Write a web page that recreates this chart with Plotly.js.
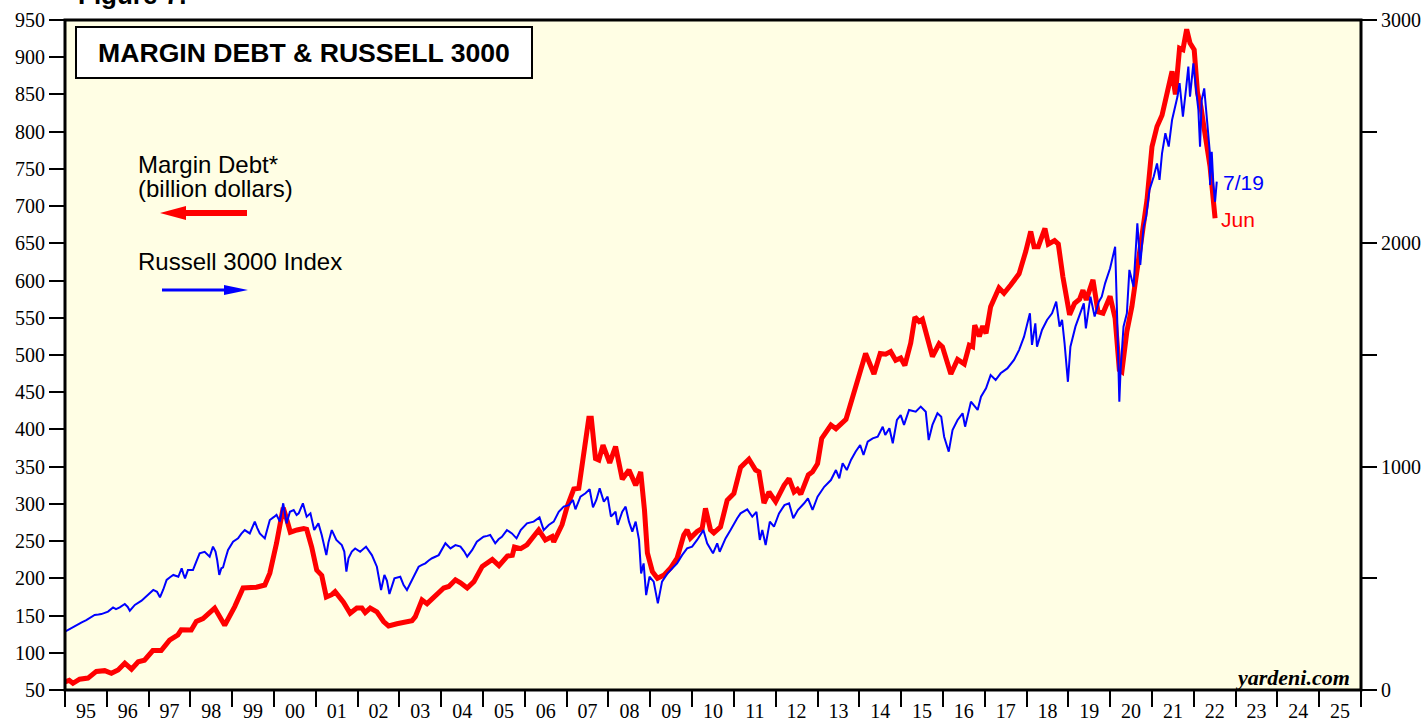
<!DOCTYPE html>
<html>
<head>
<meta charset="utf-8">
<script src="https://cdn.plot.ly/plotly-3.0.1.min.js"></script>
<style>html,body{margin:0;padding:0;background:#fff;}#chart{width:1428px;height:719px;}</style>
</head>
<body>
<div id="chart"></div>
<script>
// Margin debt (billion dollars), monthly-ish readings, x in decimal years
const mdYear = [1995.00,1995.10,1995.19,1995.35,1995.55,1995.65,1995.75,1995.95,1996.11,1996.27,1996.43,1996.59,1996.75,1996.90,1997.10,1997.30,1997.50,1997.70,1997.78,1998.02,1998.14,1998.30,1998.58,1998.82,1998.94,1999.06,1999.26,1999.58,1999.78,1999.90,2000.06,2000.22,2000.30,2000.39,2000.55,2000.71,2000.78,2000.90,2001.02,2001.14,2001.25,2001.38,2001.46,2001.66,2001.82,2001.98,2002.10,2002.18,2002.30,2002.46,2002.62,2002.74,2002.94,2003.14,2003.30,2003.38,2003.54,2003.66,2003.90,2004.06,2004.18,2004.34,2004.46,2004.62,2004.78,2004.98,2005.22,2005.38,2005.58,2005.70,2005.75,2005.90,2006.05,2006.17,2006.33,2006.49,2006.65,2006.69,2006.81,2006.89,2007.01,2007.17,2007.29,2007.41,2007.53,2007.59,2007.69,2007.77,2007.87,2008.03,2008.17,2008.33,2008.49,2008.65,2008.77,2008.86,2008.93,2009.05,2009.17,2009.33,2009.48,2009.64,2009.80,2009.88,2009.96,2010.12,2010.24,2010.32,2010.44,2010.52,2010.68,2010.84,2011.00,2011.16,2011.36,2011.52,2011.60,2011.72,2011.84,2012.00,2012.20,2012.32,2012.44,2012.52,2012.60,2012.78,2012.88,2013.00,2013.10,2013.32,2013.44,2013.68,2013.80,2013.91,2014.02,2014.15,2014.35,2014.50,2014.63,2014.75,2014.87,2014.99,2015.09,2015.23,2015.33,2015.43,2015.51,2015.63,2015.75,2015.91,2015.99,2016.19,2016.35,2016.51,2016.63,2016.71,2016.76,2016.87,2016.95,2017.03,2017.14,2017.34,2017.46,2017.62,2017.82,2017.98,2018.10,2018.18,2018.28,2018.44,2018.52,2018.67,2018.76,2018.87,2018.92,2019.03,2019.15,2019.27,2019.35,2019.43,2019.59,2019.71,2019.83,2020.00,2020.12,2020.22,2020.28,2020.40,2020.52,2020.64,2020.76,2020.88,2021.00,2021.12,2021.24,2021.32,2021.48,2021.56,2021.66,2021.74,2021.83,2021.91,2022.01,2022.09,2022.17,2022.23,2022.31,2022.39,2022.51];
const mdValue = [61,63,59,64.5,66,70,75,76,72.5,77,86,78,88,90,103,103,117,124,131,130.5,142,146,160,137,148,162,187,188,191,207,247,295,280,262,265,267,266,242,211,204,175,178,182,168,153,160,160,154,160,155,142,136,139,140.5,143,148.5,171,166,178,187,189,198,194,187,195.5,216,225.5,217,230,231,242,240,245,254,265,251.5,256,249,265,272,296,320,321,372,415,415,361,359,379,355,377,333,345.5,325,343,292,234,209,200,204.5,213.5,227,258,265,254,263,267,294,265,261,269,305,314,349,360,345.5,343,301,316,303,325,334,316,319.5,313,339,343,354,388,406,401,413.5,437,455,478,502,474.5,502,501,504.5,493,496,486,516,551,545,548,520,498,515,511,474.5,494,488,513,511,540,525,539,529,565,590,583,594,609,639,666,645.5,645.5,670,649,653.6,649,605,590,554,569.5,575,587,574,601,558,556,579,549,480,477.6,531.6,565,610,659,708,780,807,822,843,881,850,912,910,937.5,919,910,852,834,811,784,753,683.6];

// Russell 3000 Index, readings, x in decimal years
const r3Year = [1995.00,1995.10,1995.27,1995.40,1995.51,1995.62,1995.71,1995.80,1995.87,1996.03,1996.15,1996.22,1996.31,1996.43,1996.50,1996.55,1996.67,1996.83,1996.99,1997.11,1997.20,1997.27,1997.35,1997.43,1997.51,1997.59,1997.71,1997.79,1997.83,1997.87,1997.94,1998.06,1998.14,1998.22,1998.34,1998.46,1998.54,1998.60,1998.64,1998.69,1998.74,1998.78,1998.84,1998.90,1999.02,1999.14,1999.22,1999.30,1999.42,1999.54,1999.60,1999.66,1999.78,1999.84,1999.90,2000.00,2000.06,2000.14,2000.22,2000.30,2000.38,2000.47,2000.54,2000.59,2000.69,2000.78,2000.87,2000.96,2001.06,2001.14,2001.25,2001.30,2001.38,2001.49,2001.62,2001.68,2001.73,2001.78,2001.86,2001.94,2002.06,2002.20,2002.34,2002.46,2002.56,2002.64,2002.70,2002.76,2002.82,2002.88,2003.02,2003.10,2003.18,2003.30,2003.38,2003.46,2003.54,2003.62,2003.70,2003.78,2003.94,2004.10,2004.22,2004.34,2004.46,2004.55,2004.62,2004.74,2004.85,2005.01,2005.10,2005.17,2005.29,2005.37,2005.45,2005.57,2005.69,2005.80,2005.90,2006.05,2006.21,2006.35,2006.45,2006.57,2006.69,2006.81,2006.93,2007.05,2007.15,2007.21,2007.33,2007.45,2007.55,2007.63,2007.71,2007.79,2007.89,2007.98,2008.06,2008.17,2008.22,2008.33,2008.41,2008.49,2008.57,2008.65,2008.73,2008.78,2008.84,2008.90,2008.98,2009.08,2009.18,2009.28,2009.41,2009.52,2009.64,2009.76,2009.88,2010.00,2010.12,2010.27,2010.36,2010.50,2010.60,2010.66,2010.80,2010.92,2011.00,2011.08,2011.16,2011.32,2011.44,2011.54,2011.62,2011.68,2011.76,2011.86,2011.96,2012.08,2012.21,2012.32,2012.42,2012.53,2012.68,2012.77,2012.88,2013.00,2013.16,2013.32,2013.44,2013.52,2013.60,2013.70,2013.80,2013.91,2014.02,2014.10,2014.20,2014.32,2014.44,2014.56,2014.62,2014.72,2014.80,2014.90,2014.99,2015.07,2015.19,2015.35,2015.47,2015.59,2015.66,2015.75,2015.87,2015.96,2016.03,2016.14,2016.23,2016.35,2016.47,2016.53,2016.67,2016.83,2016.91,2017.03,2017.14,2017.26,2017.38,2017.54,2017.70,2017.82,2017.94,2018.08,2018.13,2018.21,2018.25,2018.37,2018.49,2018.61,2018.71,2018.79,2018.85,2018.91,2018.99,2019.05,2019.17,2019.29,2019.37,2019.42,2019.53,2019.63,2019.73,2019.80,2019.88,2020.00,2020.08,2020.12,2020.17,2020.22,2020.25,2020.32,2020.40,2020.46,2020.56,2020.65,2020.72,2020.80,2020.86,2020.94,2021.04,2021.12,2021.18,2021.24,2021.32,2021.40,2021.48,2021.56,2021.61,2021.66,2021.74,2021.82,2021.87,2021.91,2021.99,2022.06,2022.11,2022.15,2022.19,2022.25,2022.30,2022.35,2022.38,2022.39,2022.43,2022.47,2022.51,2022.55];
const r3Value = [261,272,291,303,313,325,336,338,340,351,370,362,370,385,372,355,381,400,425,448,440,415,450,493,505,515,507,545,520,500,537,537,575,612,619,597,642,620,582,515,545,549,590,627,664,679,700,716,701,754,725,701,679,720,761,775,784,754,836,746,798,806,784,791,836,776,791,716,746,694,604,660,716,672,649,620,530,590,620,634,619,642,604,552,448,515,490,430,470,500,507,470,448,493,525,552,560,567,580,590,604,657,634,649,642,620,597,627,664,686,690,694,657,675,686,716,701,679,716,746,754,773,716,739,754,798,821,828,851,809,866,881,899,818,851,903,843,866,776,798,739,798,821,754,709,754,672,522,567,425,507,485,388,485,522,545,567,604,634,642,672,716,657,612,657,619,679,716,746,769,791,809,776,798,672,716,649,754,731,791,828,836,769,806,836,858,806,866,910,940,985,948,1015,985,1030,1067,1097,1052,1112,1127,1134,1179,1142,1172,1105,1209,1231,1187,1254,1246,1269,1246,1119,1187,1239,1224,1134,1067,1164,1209,1239,1179,1291,1254,1313,1351,1410,1388,1418,1440,1478,1522,1582,1687,1545,1642,1537,1612,1657,1687,1739,1627,1657,1552,1380,1537,1627,1694,1731,1619,1761,1672,1739,1761,1821,1888,1955,1985,1657,1291,1433,1627,1687,1881,1806,2090,1903,2075,2119,2239,2298,2358,2284,2403,2493,2433,2552,2612,2657,2717,2567,2701,2791,2657,2806,2679,2597,2433,2642,2694,2582,2493,2418,2261,2410,2261,2186,2276];

const leftTicks = [50,100,150,200,250,300,350,400,450,500,550,600,650,700,750,800,850,900,950];
const rightTickVals = [0,500,1000,1500,2000,2500,3000];
const rightTickText = ['0','','1000','','2000','','3000'];

function toDate(y){
  const yr = Math.floor(y);
  const s = Date.UTC(yr,0,1), e = Date.UTC(yr+1,0,1);
  return new Date(s + (y-yr)*(e-s)).toISOString().slice(0,19).replace('T',' ');
}

// pixel -> paper helpers for decoration
const L=65, R=1361, T=20, B=690;
const px = x => (x-L)/(R-L);
const py = y => (B-y)/(B-T);

const serif = 'Liberation Serif, Times New Roman, serif';
const sans = 'Liberation Sans, Arial, sans-serif';

const traces = [
  {x: mdYear.map(toDate), y: mdValue, type:'scatter', mode:'lines', yaxis:'y',
   line:{color:'#FF0000', width:5}, hoverinfo:'skip'},
  {x: r3Year.map(toDate), y: r3Value, type:'scatter', mode:'lines', yaxis:'y2',
   line:{color:'#0000FF', width:2}, hoverinfo:'skip'}
];

const layout = {
  width:1428, height:719,
  margin:{l:L, r:1428-R, t:T, b:719-B},
  paper_bgcolor:'#FFFFFF', plot_bgcolor:'#FFFEE4',
  showlegend:false,
  xaxis:{type:'date', range:[toDate(1995), toDate(2026)], tick0:'1995-01-01', dtick:'M12',
    ticklabelmode:'period', tickformat:'%y', ticks:'outside', ticklen:16, tickwidth:2, tickcolor:'#000',
    ticklabelstandoff:-13,
    showgrid:false, zeroline:false, showline:false,
    tickfont:{family:serif, size:20, color:'#000'}},
  yaxis:{range:[50,950], tickvals:leftTicks, ticks:'outside', ticklen:15, tickwidth:2, tickcolor:'#000',
    showgrid:false, zeroline:false, showline:false,
    tickfont:{family:serif, size:20, color:'#000'}},
  yaxis2:{range:[0,3000], overlaying:'y', side:'right', tickvals:rightTickVals, ticktext:rightTickText,
    ticks:'outside', ticklen:15, tickwidth:2, tickcolor:'#000', showgrid:false, zeroline:false, showline:false,
    tickfont:{family:serif, size:20, color:'#000'}},
  shapes:[
    {type:'rect', xref:'paper', yref:'paper', x0:0, x1:1, y0:0, y1:1, line:{color:'#000', width:3}, layer:'above'},
    {type:'line', xref:'paper', yref:'paper', x0:px(247), x1:px(180), y0:py(213), y1:py(213), line:{color:'#FF0000', width:6}},
    {type:'path', xref:'paper', yref:'paper', path:`M${px(160)},${py(213)} L${px(186)},${py(206)} L${px(186)},${py(220)} Z`, fillcolor:'#FF0000', line:{width:0}},
    {type:'line', xref:'paper', yref:'paper', x0:px(162), x1:px(230), y0:py(290), y1:py(290), line:{color:'#0000FF', width:3}},
    {type:'path', xref:'paper', yref:'paper', path:`M${px(248)},${py(290)} L${px(224)},${py(285)} L${px(224)},${py(295)} Z`, fillcolor:'#0000FF', line:{width:0}}
  ],
  annotations:[
    {text:'<b>Figure 7.</b>', xref:'paper', yref:'paper', x:px(76), y:py(12), xanchor:'left', yanchor:'bottom', showarrow:false,
     font:{family:sans, size:26, color:'#000'}},
    {text:'<b>MARGIN DEBT & RUSSELL 3000</b>', xref:'paper', yref:'paper', x:px(75), y:py(26), xanchor:'left', yanchor:'top',
     showarrow:false, width:454, height:49, bgcolor:'#FFFFFF', bordercolor:'#000', borderwidth:2, borderpad:0,
     font:{family:sans, size:26.6, color:'#000'}},
    {text:'Margin Debt*', xref:'paper', yref:'paper', x:px(136), y:py(164), xanchor:'left', yanchor:'middle', showarrow:false,
     font:{family:sans, size:24, color:'#000'}},
    {text:'(billion dollars)', xref:'paper', yref:'paper', x:px(136), y:py(188), xanchor:'left', yanchor:'middle', showarrow:false,
     font:{family:sans, size:24, color:'#000'}},
    {text:'Russell 3000 Index', xref:'paper', yref:'paper', x:px(136), y:py(261), xanchor:'left', yanchor:'middle', showarrow:false,
     font:{family:sans, size:24, color:'#000'}},
    {text:'7/19', xref:'paper', yref:'paper', x:px(1221), y:py(182), xanchor:'left', yanchor:'middle', showarrow:false,
     font:{family:sans, size:21, color:'#0000FF'}},
    {text:'Jun', xref:'paper', yref:'paper', x:px(1219), y:py(219), xanchor:'left', yanchor:'middle', showarrow:false,
     font:{family:sans, size:21, color:'#FF0000'}},
    {text:'<b><i>yardeni.com</i></b>', xref:'paper', yref:'paper', x:px(1352), y:py(677), xanchor:'right', yanchor:'middle', showarrow:false,
     font:{family:serif, size:22, color:'#000'}}
  ]
};

Plotly.newPlot('chart', traces, layout, {displayModeBar:false, staticPlot:true});
</script>
</body>
</html>
